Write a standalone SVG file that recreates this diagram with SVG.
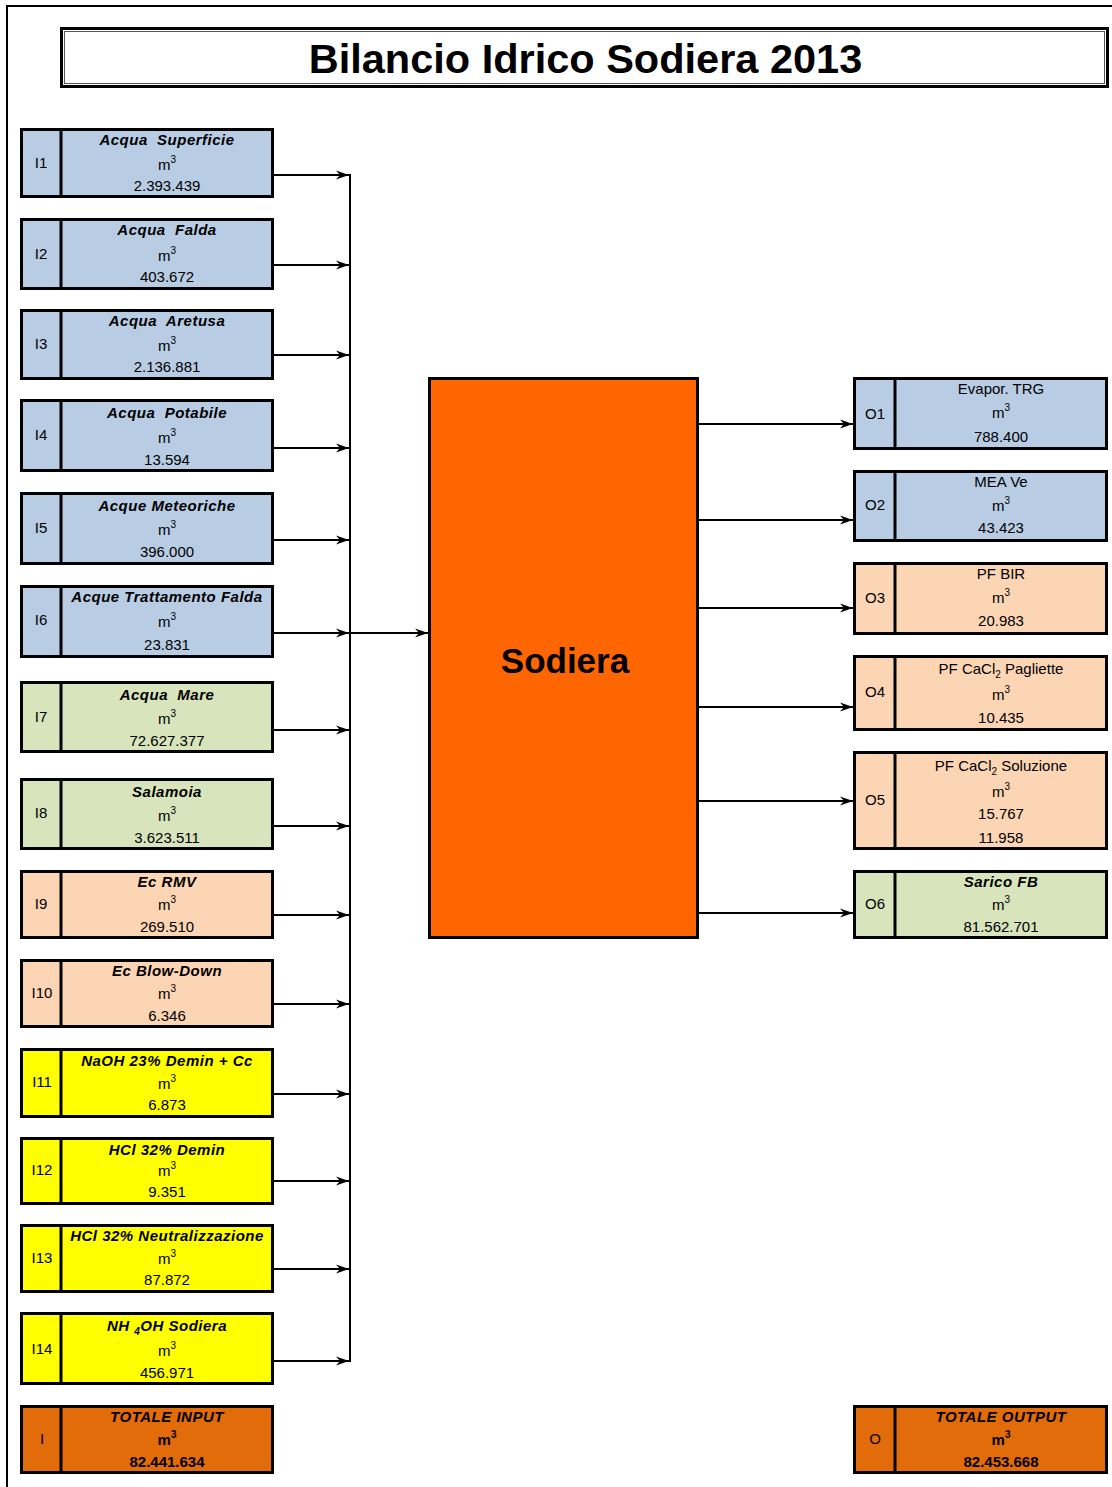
<svg xmlns="http://www.w3.org/2000/svg" width="1112" height="1487" viewBox="0 0 1112 1487">
<style>
text{font-family:"Liberation Sans",Arial,sans-serif;fill:#000;text-anchor:middle;white-space:pre}
.t{font-size:15px;font-weight:bold;font-style:italic;letter-spacing:0.5px}
.n{font-size:15px}
.tb{font-size:15px;font-weight:bold}
.lab{font-size:15px}
.box{stroke:#000;stroke-width:3}
.div{stroke:#000;stroke-width:3}
.blue{fill:#B8CCE4}
.green{fill:#D7E4BC}
.peach{fill:#FCD5B4}
.yellow{fill:#FFFF00}
.tot{fill:#E26B0A}
.sup{font-size:10px}
.conn line{stroke:#000;stroke-width:2}
</style>
<defs>
<marker id="arr" markerUnits="userSpaceOnUse" markerWidth="14" markerHeight="10" refX="13" refY="5" orient="auto">
<path d="M0,0.5 L13,5 L0,9.5 L4,5 z" fill="#000"/>
</marker>
</defs>
<rect width="1112" height="1487" fill="#fff"/>
<g id="frame">
<line x1="7" y1="6" x2="1112" y2="6" stroke="#000" stroke-width="2"/>
<line x1="7" y1="5" x2="7" y2="1487" stroke="#000" stroke-width="2"/>
</g>
<g id="title">
<rect x="61.5" y="28.5" width="1046" height="58" fill="#fff" stroke="#000" stroke-width="3"/>
<rect x="64.5" y="31.5" width="1040" height="52" fill="none" stroke="#555" stroke-width="1"/>
<text x="585.5" y="73" style="font-size:41.5px;font-weight:bold">Bilancio Idrico Sodiera 2013</text>
</g>

<g id="I1"><rect class="box blue" x="21.5" y="129.5" width="251" height="67"/><line class="div" x1="61" y1="129" x2="61" y2="197"/><text class="lab" x="41" y="168">I1</text><text class="t" x="167" y="145">Acqua  Superficie</text><text class="n" x="167" y="170">m<tspan class="sup" dy="-7">3</tspan></text><text class="n" x="167" y="191">2.393.439</text></g>
<g id="I2"><rect class="box blue" x="21.5" y="219.5" width="251" height="69"/><line class="div" x1="61" y1="219" x2="61" y2="289"/><text class="lab" x="41" y="259">I2</text><text class="t" x="167" y="235">Acqua  Falda</text><text class="n" x="167" y="261">m<tspan class="sup" dy="-7">3</tspan></text><text class="n" x="167" y="282">403.672</text></g>
<g id="I3"><rect class="box blue" x="21.5" y="310.5" width="251" height="68"/><line class="div" x1="61" y1="310" x2="61" y2="379"/><text class="lab" x="41" y="349">I3</text><text class="t" x="167" y="326">Acqua  Aretusa</text><text class="n" x="167" y="351">m<tspan class="sup" dy="-7">3</tspan></text><text class="n" x="167" y="372">2.136.881</text></g>
<g id="I4"><rect class="box blue" x="21.5" y="400.5" width="251" height="70"/><line class="div" x1="61" y1="400" x2="61" y2="471"/><text class="lab" x="41" y="440">I4</text><text class="t" x="167" y="418">Acqua  Potabile</text><text class="n" x="167" y="443">m<tspan class="sup" dy="-7">3</tspan></text><text class="n" x="167" y="465">13.594</text></g>
<g id="I5"><rect class="box blue" x="21.5" y="493.5" width="251" height="70"/><line class="div" x1="61" y1="493" x2="61" y2="564"/><text class="lab" x="41" y="533">I5</text><text class="t" x="167" y="511">Acque Meteoriche</text><text class="n" x="167" y="535">m<tspan class="sup" dy="-7">3</tspan></text><text class="n" x="167" y="557">396.000</text></g>
<g id="I6"><rect class="box blue" x="21.5" y="586.5" width="251" height="70"/><line class="div" x1="61" y1="586" x2="61" y2="657"/><text class="lab" x="41" y="625">I6</text><text class="t" x="167" y="602">Acque Trattamento Falda</text><text class="n" x="167" y="627">m<tspan class="sup" dy="-7">3</tspan></text><text class="n" x="167" y="650">23.831</text></g>
<g id="I7"><rect class="box green" x="21.5" y="682.5" width="251" height="69"/><line class="div" x1="61" y1="682" x2="61" y2="752"/><text class="lab" x="41" y="722">I7</text><text class="t" x="167" y="700">Acqua  Mare</text><text class="n" x="167" y="724">m<tspan class="sup" dy="-7">3</tspan></text><text class="n" x="167" y="746">72.627.377</text></g>
<g id="I8"><rect class="box green" x="21.5" y="779.5" width="251" height="69"/><line class="div" x1="61" y1="779" x2="61" y2="849"/><text class="lab" x="41" y="818">I8</text><text class="t" x="167" y="797">Salamoia</text><text class="n" x="167" y="821">m<tspan class="sup" dy="-7">3</tspan></text><text class="n" x="167" y="843">3.623.511</text></g>
<g id="I9"><rect class="box peach" x="21.5" y="871.5" width="251" height="66"/><line class="div" x1="61" y1="871" x2="61" y2="938"/><text class="lab" x="41" y="909">I9</text><text class="t" x="167" y="887">Ec RMV</text><text class="n" x="167" y="910">m<tspan class="sup" dy="-7">3</tspan></text><text class="n" x="167" y="932">269.510</text></g>
<g id="I10"><rect class="box peach" x="21.5" y="960.5" width="251" height="66"/><line class="div" x1="61" y1="960" x2="61" y2="1027"/><text class="lab" x="42" y="998">I10</text><text class="t" x="167" y="976">Ec Blow-Down</text><text class="n" x="167" y="999">m<tspan class="sup" dy="-7">3</tspan></text><text class="n" x="167" y="1021">6.346</text></g>
<g id="I11"><rect class="box yellow" x="21.5" y="1049.5" width="251" height="67"/><line class="div" x1="61" y1="1049" x2="61" y2="1118"/><text class="lab" x="42" y="1087">I11</text><text class="t" x="167" y="1066">NaOH 23% Demin + Cc</text><text class="n" x="167" y="1089">m<tspan class="sup" dy="-7">3</tspan></text><text class="n" x="167" y="1110">6.873</text></g>
<g id="I12"><rect class="box yellow" x="21.5" y="1138.5" width="251" height="65"/><line class="div" x1="61" y1="1138" x2="61" y2="1204"/><text class="lab" x="42" y="1175">I12</text><text class="t" x="167" y="1155">HCl 32% Demin</text><text class="n" x="167" y="1176">m<tspan class="sup" dy="-7">3</tspan></text><text class="n" x="167" y="1197">9.351</text></g>
<g id="I13"><rect class="box yellow" x="21.5" y="1225.5" width="251" height="66"/><line class="div" x1="61" y1="1225" x2="61" y2="1292"/><text class="lab" x="42" y="1263">I13</text><text class="t" x="167" y="1241">HCl 32% Neutralizzazione</text><text class="n" x="167" y="1264">m<tspan class="sup" dy="-7">3</tspan></text><text class="n" x="167" y="1285">87.872</text></g>
<g id="I14"><rect class="box yellow" x="21.5" y="1313.5" width="251" height="70"/><line class="div" x1="61" y1="1313" x2="61" y2="1384"/><text class="lab" x="42" y="1354">I14</text><text class="t" x="167" y="1331">NH <tspan class="sup" dy="4">4</tspan><tspan dy="-4">OH Sodiera</tspan></text><text class="n" x="167" y="1356">m<tspan class="sup" dy="-7">3</tspan></text><text class="n" x="167" y="1378">456.971</text></g>
<g id="I"><rect class="box tot" x="21.5" y="1406.5" width="251" height="66"/><line class="div" x1="61" y1="1406" x2="61" y2="1473"/><text class="lab" x="42" y="1444">I</text><text class="t" x="167" y="1422">TOTALE INPUT</text><text class="tb" x="167" y="1445">m<tspan class="sup" dy="-7">3</tspan></text><text class="tb" x="167" y="1467">82.441.634</text></g>

<g id="Sodiera"><rect x="429.5" y="378.5" width="268" height="559" fill="#FF6600" stroke="#000" stroke-width="3"/><text x="565" y="673" style="font-size:35px;font-weight:bold">Sodiera</text></g>

<g id="O1"><rect class="box blue" x="854.5" y="378.5" width="252" height="70"/><line class="div" x1="895" y1="378" x2="895" y2="449"/><text class="lab" x="875" y="419">O1</text><text class="n" x="1001" y="394">Evapor. TRG</text><text class="n" x="1001" y="418">m<tspan class="sup" dy="-7">3</tspan></text><text class="n" x="1001" y="442">788.400</text></g>
<g id="O2"><rect class="box blue" x="854.5" y="471.5" width="252" height="69"/><line class="div" x1="895" y1="471" x2="895" y2="541"/><text class="lab" x="875" y="510">O2</text><text class="n" x="1001" y="487">MEA Ve</text><text class="n" x="1001" y="511">m<tspan class="sup" dy="-7">3</tspan></text><text class="n" x="1001" y="533">43.423</text></g>
<g id="O3"><rect class="box peach" x="854.5" y="563.5" width="252" height="70"/><line class="div" x1="895" y1="563" x2="895" y2="634"/><text class="lab" x="875" y="603">O3</text><text class="n" x="1001" y="579">PF BIR</text><text class="n" x="1001" y="603">m<tspan class="sup" dy="-7">3</tspan></text><text class="n" x="1001" y="626">20.983</text></g>
<g id="O4"><rect class="box peach" x="854.5" y="656.5" width="252" height="73"/><line class="div" x1="895" y1="656" x2="895" y2="730"/><text class="lab" x="875" y="697">O4</text><text class="n" x="1001" y="674">PF CaCl<tspan class="sup" dy="4">2</tspan><tspan dy="-4"> Pagliette</tspan></text><text class="n" x="1001" y="700">m<tspan class="sup" dy="-7">3</tspan></text><text class="n" x="1001" y="723">10.435</text></g>
<g id="O5"><rect class="box peach" x="854.5" y="752.5" width="252" height="96"/><line class="div" x1="895" y1="752" x2="895" y2="849"/><text class="lab" x="875" y="805">O5</text><text class="n" x="1001" y="771">PF CaCl<tspan class="sup" dy="4">2</tspan><tspan dy="-4"> Soluzione</tspan></text><text class="n" x="1001" y="797">m<tspan class="sup" dy="-7">3</tspan></text><text class="n" x="1001" y="819">15.767</text><text class="n" x="1001" y="843">11.958</text></g>
<g id="O6"><rect class="box green" x="854.5" y="871.5" width="252" height="66"/><line class="div" x1="895" y1="871" x2="895" y2="938"/><text class="lab" x="875" y="909">O6</text><text class="t" x="1001" y="887">Sarico FB</text><text class="n" x="1001" y="910">m<tspan class="sup" dy="-7">3</tspan></text><text class="n" x="1001" y="932">81.562.701</text></g>
<g id="O"><rect class="box tot" x="854.5" y="1406.5" width="252" height="66"/><line class="div" x1="895" y1="1406" x2="895" y2="1473"/><text class="lab" x="875" y="1444">O</text><text class="t" x="1001" y="1422">TOTALE OUTPUT</text><text class="tb" x="1001" y="1445">m<tspan class="sup" dy="-7">3</tspan></text><text class="tb" x="1001" y="1467">82.453.668</text></g>

<g id="connectors" class="conn">
<line x1="350" y1="174" x2="350" y2="1362"/>
<line x1="273" y1="175" x2="349" y2="175" marker-end="url(#arr)"/>
<line x1="273" y1="265" x2="349" y2="265" marker-end="url(#arr)"/>
<line x1="273" y1="355" x2="349" y2="355" marker-end="url(#arr)"/>
<line x1="273" y1="448" x2="349" y2="448" marker-end="url(#arr)"/>
<line x1="273" y1="540" x2="349" y2="540" marker-end="url(#arr)"/>
<line x1="273" y1="633" x2="349" y2="633" marker-end="url(#arr)"/>
<line x1="273" y1="730" x2="349" y2="730" marker-end="url(#arr)"/>
<line x1="273" y1="826" x2="349" y2="826" marker-end="url(#arr)"/>
<line x1="273" y1="915" x2="349" y2="915" marker-end="url(#arr)"/>
<line x1="273" y1="1004" x2="349" y2="1004" marker-end="url(#arr)"/>
<line x1="273" y1="1094" x2="349" y2="1094" marker-end="url(#arr)"/>
<line x1="273" y1="1181" x2="349" y2="1181" marker-end="url(#arr)"/>
<line x1="273" y1="1269" x2="349" y2="1269" marker-end="url(#arr)"/>
<line x1="273" y1="1361" x2="349" y2="1361" marker-end="url(#arr)"/>
<line x1="350" y1="633" x2="428" y2="633" marker-end="url(#arr)"/>
<line x1="699" y1="424" x2="853" y2="424" marker-end="url(#arr)"/>
<line x1="699" y1="520" x2="853" y2="520" marker-end="url(#arr)"/>
<line x1="699" y1="608" x2="853" y2="608" marker-end="url(#arr)"/>
<line x1="699" y1="707" x2="853" y2="707" marker-end="url(#arr)"/>
<line x1="699" y1="801" x2="853" y2="801" marker-end="url(#arr)"/>
<line x1="699" y1="913" x2="853" y2="913" marker-end="url(#arr)"/>
</g>
</svg>
